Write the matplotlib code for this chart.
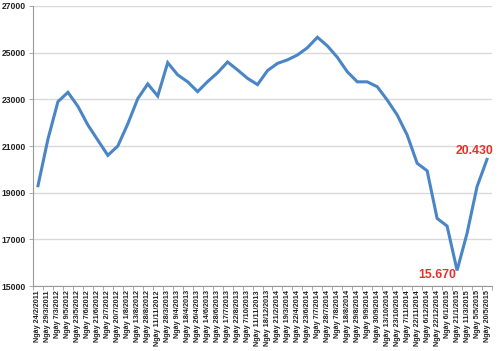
import matplotlib
matplotlib.use("Agg")
import matplotlib.pyplot as plt
import numpy as np

dates = ["24/2/2011", "29/3/2011", "7/3/2012", "9/5/2012", "23/5/2012", "7/6/2012",
         "21/6/2012", "2/7/2012", "20/7/2012", "1/8/2012", "13/8/2012", "28/8/2012",
         "11/11/2012", "28/3/2013", "9/4/2013", "18/4/2013", "26/4/2013", "14/6/2013",
         "28/6/2013", "17/7/2013", "22/8/2013", "7/10/2013", "11/11/2013", "18/12/2013",
         "21/2/2014", "19/3/2014", "22/4/2014", "23/6/2014", "7/7/2014", "28/7/2014",
         "7/8/2014", "18/8/2014", "29/8/2014", "9/9/2014", "30/9/2014", "13/10/2014",
         "23/10/2014", "7/11/2014", "22/11/2014", "6/12/2014", "22/12/2014", "6/1/2015",
         "21/1/2015", "11/3/2015", "5/5/2015", "20/5/2015"]
labels = ["Ngày " + d for d in dates]

prices = [19300, 21300, 22900, 23300, 22700, 21900, 21250, 20600, 21000, 21950,
          23030, 23660, 23140, 24570, 24050, 23750, 23330, 23760, 24140, 24600,
          24260, 23900, 23630, 24230, 24540, 24690, 24900, 25210, 25660, 25290,
          24800, 24180, 23750, 23750, 23540, 22970, 22330, 21470, 20260, 19940,
          17900, 17570, 15670, 17260, 19260, 20430]

yticks = [15000, 17000, 19000, 21000, 23000, 25000, 27000]

fig = plt.figure(figsize=(5.0, 3.51), dpi=100)
ax = fig.add_axes([0.066, 0.185, 0.918, 0.798])

x = np.arange(len(prices))
ax.plot(x, prices, color="#4a86c5", linewidth=2.2, solid_joinstyle="miter", zorder=3)

ax.set_xlim(-0.5, len(prices) - 0.5)
ax.set_ylim(15000, 27000)
ax.set_yticks(yticks)
ax.set_yticklabels([str(v) for v in yticks], fontsize=6.2, color="#222222",
                   family="Liberation Sans", fontweight="bold")
ax.set_xticks(x)
ax.set_xticklabels(labels, rotation=90, fontsize=5.2, color="#222222",
                   family="Liberation Sans", fontweight="bold")
ax.set_xticks(np.arange(len(prices) + 1) - 0.5, minor=True)
ax.tick_params(axis="x", which="major", length=0, pad=3)
ax.tick_params(axis="x", which="minor", length=3, color="#999999", width=0.6)
ax.tick_params(axis="y", length=3, color="#999999", width=0.6, pad=2)

ax.grid(axis="y", color="#d9d9d9", linewidth=1.0)
ax.set_axisbelow(True)
for s in ["top", "right"]:
    ax.spines[s].set_visible(False)
for s in ["left", "bottom"]:
    ax.spines[s].set_color("#999999")
    ax.spines[s].set_linewidth(0.8)

imin = int(np.argmin(prices))
ax.annotate("15.670", xy=(imin, prices[imin]), xytext=(-0.5, -3), textcoords="offset points",
            ha="right", va="center", color="#e8302a", fontsize=8.8, fontweight="bold",
            family="Liberation Sans")
ax.annotate("20.430", xy=(len(prices) - 1, prices[-1]), xytext=(4.5, 1.5), textcoords="offset points",
            ha="right", va="bottom", color="#e8302a", fontsize=8.8, fontweight="bold",
            family="Liberation Sans")

fig.savefig("out.png", dpi=100)
